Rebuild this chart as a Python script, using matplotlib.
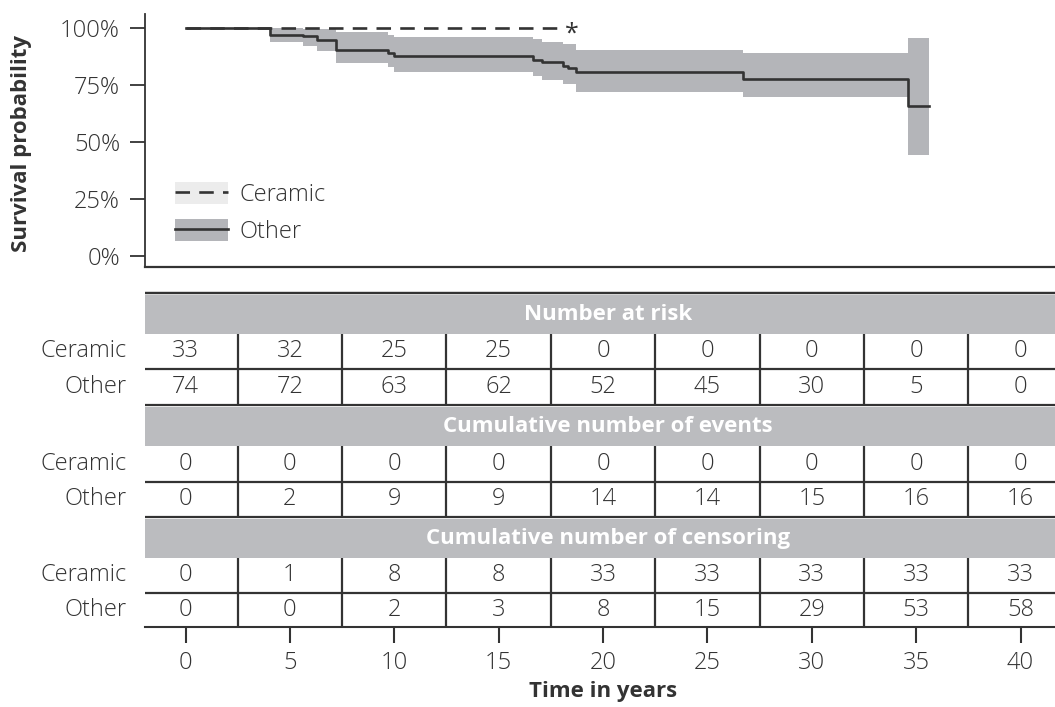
import matplotlib
matplotlib.use("Agg")
import matplotlib.pyplot as plt
from matplotlib.patches import Patch
from matplotlib.lines import Line2D

# ---------------- data ----------------
groups = ["Ceramic", "Other"]

other_t = [0, 4.07, 5.65, 6.3, 7.2, 9.7, 10.0, 16.65, 17.1, 18.1, 18.3, 18.7, 26.7, 34.6, 35.6]
other_s = [1.0, 0.969, 0.965, 0.948, 0.904, 0.89, 0.877, 0.86, 0.852, 0.835, 0.826, 0.808, 0.776, 0.658, 0.658]
other_hi = [1.0, 1.0, 0.996, 0.996, 0.981, 0.97, 0.959, 0.95, 0.94, 0.928, 0.928, 0.904, 0.892, 0.957, 0.957]
other_lo = [1.0, 0.94, 0.922, 0.90, 0.845, 0.83, 0.808, 0.789, 0.772, 0.753, 0.753, 0.718, 0.696, 0.443, 0.443]

ceramic_t = [0, 17.85]
ceramic_s = [1.0, 1.0]
ceramic_hi = [1.0, 1.0]
ceramic_lo = [1.0, 1.0]

table_times = [0, 5, 10, 15, 20, 25, 30, 35, 40]
at_risk = {"Ceramic": [33, 32, 25, 25, 0, 0, 0, 0, 0],
           "Other":   [74, 72, 63, 62, 52, 45, 30, 5, 0]}
cum_events = {"Ceramic": [0, 0, 0, 0, 0, 0, 0, 0, 0],
              "Other":   [0, 2, 9, 9, 14, 14, 15, 16, 16]}
cum_censor = {"Ceramic": [0, 1, 8, 8, 33, 33, 33, 33, 33],
              "Other":   [0, 0, 2, 3, 8, 15, 29, 53, 58]}
sections = [("Number at risk", at_risk),
            ("Cumulative number of events", cum_events),
            ("Cumulative number of censoring", cum_censor)]

y_ticks = [0, 0.25, 0.5, 0.75, 1.0]
y_ticklabels = ["0%", "25%", "50%", "75%", "100%"]
sig_mark = "*"
sig_time = 18.5

# ---------------- style ----------------
plt.rcParams['font.family'] = ['Open Sans', 'DejaVu Sans']
DARK = '#333333'
BAND = '#b4b5b9'
BAND_LIGHT = '#ececec'
HEAD = '#bbbcbf'
FS = 17
FSB = 16

W, H = 1055, 707
fig = plt.figure(figsize=(W / 100, H / 100), dpi=100)

XL = (-1.94, 41.65)

# ---------------- survival plot ----------------
ax = fig.add_axes([145 / W, 1 - 267 / H, 910 / W, (267 - 14) / H])
ax.fill_between(ceramic_t, ceramic_lo, ceramic_hi, step='post', color=BAND_LIGHT, lw=0)
ax.fill_between(other_t, other_lo, other_hi, step='post', color=BAND, lw=0)
ax.plot(ceramic_t, ceramic_s, color=DARK, lw=1.9, ls=(0, (5.5, 3.5)), drawstyle='steps-post')
ax.plot(other_t, other_s, color=DARK, lw=1.9, drawstyle='steps-post')
ax.text(sig_time, 0.975, sig_mark, fontsize=18, color=DARK, ha='center', va='center')

ax.set_xlim(*XL)
ax.set_ylim(-0.048, 1.061)
ax.set_yticks(y_ticks)
ax.set_yticklabels(y_ticklabels)
ax.tick_params(axis='y', length=11, width=1.3, pad=7, labelsize=FS, colors=DARK, direction='out')
ax.tick_params(axis='x', bottom=False, labelbottom=False)
for s in ['top', 'right']:
    ax.spines[s].set_visible(False)
ax.spines['left'].set_color(DARK)
ax.spines['left'].set_linewidth(1.3)
ax.spines['bottom'].set_color(DARK)
ax.spines['bottom'].set_linewidth(1.6)
for lbl in ax.get_yticklabels():
    lbl.set_fontweight('light')

handles = [(Patch(facecolor=BAND_LIGHT, edgecolor='none'),
            Line2D([], [], color=DARK, lw=1.9, ls=(0, (5.5, 3.5)))),
           (Patch(facecolor=BAND, edgecolor='none'),
            Line2D([], [], color=DARK, lw=1.9))]
leg = ax.legend(handles, groups, loc='lower left', bbox_to_anchor=(0.033, 0.09),
                frameon=False, fontsize=FS, handlelength=2.25, handleheight=1.05,
                labelspacing=0.5, handletextpad=0.5, borderpad=0, borderaxespad=0)
for t in leg.get_texts():
    t.set_color(DARK)
    t.set_fontweight('light')

fig.text(22 / W, 1 - 144 / H, "Survival probability", rotation=90, ha='center', va='center',
         fontsize=FSB, fontweight='bold', color=DARK)

# ---------------- risk table ----------------
tb = fig.add_axes([145 / W, 1 - 627 / H, 910 / W, (627 - 293) / H])
tb.set_xlim(*XL)
tb.set_ylim(627, 293)
for s in ['top', 'right', 'left']:
    tb.spines[s].set_visible(False)
tb.spines['bottom'].set_color(DARK)
tb.spines['bottom'].set_linewidth(1.5)
tb.set_yticks([])
tb.set_xticks(table_times)
tb.set_xticklabels([str(t) for t in table_times])
tb.tick_params(axis='x', length=11.5, width=1.5, pad=6, labelsize=FS, colors=DARK)
for lbl in tb.get_xticklabels():
    lbl.set_fontweight('light')

sec_h = [(293, 334), (405, 446), (517, 558)]
row_h = [[(334, 369), (369, 405)], [(446, 482), (482, 517)], [(558, 593), (593, 627)]]
bounds = [t + 2.5 for t in table_times[:-1]]

tb.hlines(293, XL[0], XL[1], color=DARK, lw=1.6, clip_on=False)
for (title, data), (h0, h1), rows in zip(sections, sec_h, row_h):
    tb.axhspan(h0 + 2, h1, color=HEAD, lw=0)
    tb.text(20.25, (h0 + h1) / 2 + 1, title, ha='center', va='center', fontsize=FSB,
            fontweight='bold', color='white')
    tb.hlines(h0, XL[0], XL[1], color=DARK, lw=1.6, clip_on=False)
    tb.hlines(rows[0][1], XL[0], XL[1], color=DARK, lw=1.6)
    tb.vlines(bounds, rows[0][0], rows[1][1], color=DARK, lw=1.6)
    for g, (r0, r1) in zip(groups, rows):
        yc = (r0 + r1) / 2
        tb.text(-2.8, yc, g, ha='right', va='center', fontsize=FS, color=DARK,
                fontweight='light', clip_on=False)
        for t, v in zip(table_times, data[g]):
            tb.text(t, yc, str(v), ha='center', va='center', fontsize=FS, color=DARK,
                    fontweight='light')

fig.text(603 / W, 1 - 691 / H, "Time in years", ha='center', va='center',
         fontsize=FSB, fontweight='bold', color=DARK)

fig.savefig("out.png", dpi=100)
